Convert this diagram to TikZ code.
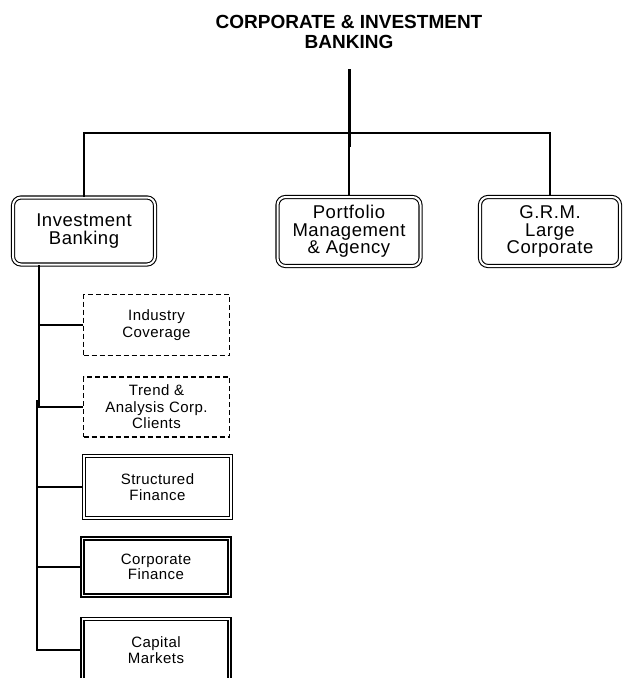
\documentclass[tikz,border=0pt]{standalone}
\usepackage{fontspec}
\setmainfont{Liberation Sans}
\newfontfamily\boxfont{Liberation Sans}[LetterSpace=3]
\usetikzlibrary{calc}

\tikzset{
  unitbox/.style={draw, double, line width=1.1pt, double distance=2pt,
    rounded corners=8pt, inner sep=0pt, align=center,
    font=\boxfont\fontsize{18.5}{17.5}\selectfont},
  taskbox/.style={draw, dashed, dash pattern=on 5pt off 3pt, line width=1.3pt,
    inner sep=0pt, align=center, minimum width=146pt,
    font=\boxfont\fontsize{15}{16.5}\selectfont},
  deskbox/.style={draw, double, line width=1.3pt, double distance=1.8pt,
    inner sep=0pt, align=center, minimum width=147pt,
    font=\boxfont\fontsize{15}{15.5}\selectfont},
  link/.style={line width=1.6pt},
  trunk/.style={line width=3pt}
}

\begin{document}
\begin{tikzpicture}[x=1pt,y=-1pt]
  \useasboundingbox (0,0) rectangle (624,678);

  % head of the division
  \node[align=center, font=\bfseries\fontsize{19}{19.5}\selectfont]
    (cib) at (349,32) {CORPORATE \& INVESTMENT\\BANKING};

  % first level units
  \node[unitbox, minimum width=142pt, minimum height=67pt]
    (ib) at (84,231) {Investment\\Banking};
  \node[unitbox, minimum width=143pt, minimum height=69pt]
    (pm) at (349,231.5) {Portfolio\\Management\\\& Agency};
  \node[unitbox, minimum width=140pt, minimum height=69pt]
    (grm) at (550,231.5) {G.R.M.\\Large\\Corporate};

  % desks under Investment Banking
  \node[taskbox, minimum height=61pt] (ind) at (156.5,325) {Industry\\Coverage};
  \node[taskbox, minimum height=60pt] (trd) at (156.5,407) {Trend \&\\Analysis Corp.\\Clients};
  \node[deskbox, minimum height=62pt] (stf) at (157.5,487) {Structured\\Finance};
  \node[deskbox, minimum height=57pt] (cof) at (156,567) {Corporate\\Finance};
  \node[deskbox, minimum height=62pt] (cam) at (156,650) {Capital\\Markets};

  % top level connectors
  \coordinate (top) at (349,69);
  \coordinate (hub) at (349,133);
  \draw[trunk] (top) -- ($(hub)+(0,14)$);
  \draw[link] (hub) -- (pm.north);
  \draw[link] (ib.north) |- (hub) -| (grm.north);

  % Investment Banking spine
  \coordinate (ibfoot) at ($(ib.south)+(-45,0)$);
  \coordinate (spine) at (37,400);
  \draw[link] (ibfoot) |- (ind.west);
  \draw[link] (ibfoot) |- (trd.west);
  \draw[link] (spine) |- (stf.west);
  \draw[link] (spine) |- (cof.west);
  \draw[link] (spine) |- (cam.west);
\end{tikzpicture}
\end{document}
